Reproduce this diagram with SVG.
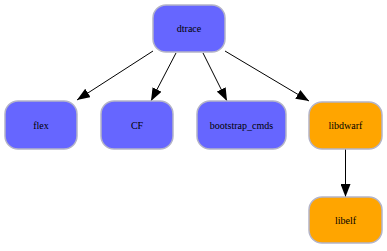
<svg xmlns="http://www.w3.org/2000/svg" width="387" height="251" viewBox="0 0 387 251">
<style>
.n rect{stroke:#b4b4c8;stroke-width:1.5}
.b rect{fill:#6666ff}
.o rect{fill:#ffa500}
text{font-family:"Liberation Serif","Times New Roman",serif;font-size:10px;fill:#000;text-anchor:middle;dominant-baseline:central}
.e line{stroke:#000;stroke-width:1;marker-end:url(#ah)}
</style>
<defs>
<marker id="ah" markerWidth="13" markerHeight="10" refX="13" refY="5" orient="auto" markerUnits="userSpaceOnUse">
<path d="M0,0 L13,5 L0,10 Z" fill="#000"/>
</marker>
</defs>
<rect width="387" height="251" fill="#fff"/>
<g class="e">
<line x1="153" y1="51" x2="77" y2="100"/>
<line x1="176" y1="53" x2="151" y2="101"/>
<line x1="203" y1="53" x2="227" y2="101"/>
<line x1="225" y1="51" x2="309" y2="101"/>
<line x1="345.5" y1="149" x2="345.5" y2="197"/>
</g>
<g id="dtrace" class="n b"><rect x="153" y="5" width="72" height="47" rx="13"/><text x="189" y="28.5">dtrace</text></g>
<g id="flex" class="n b"><rect x="5" y="101" width="72" height="48" rx="13"/><text x="41" y="125">flex</text></g>
<g id="CF" class="n b"><rect x="101" y="101" width="72" height="48" rx="13"/><text x="137" y="125">CF</text></g>
<g id="bootstrap_cmds" class="n b"><rect x="197" y="101" width="89" height="48" rx="13"/><text x="241.5" y="125">bootstrap_cmds</text></g>
<g id="libdwarf" class="n o"><rect x="309" y="102" width="73" height="47" rx="13"/><text x="345.5" y="125">libdwarf</text></g>
<g id="libelf" class="n o"><rect x="309" y="197" width="73" height="46" rx="13"/><text x="345.5" y="220">libelf</text></g>
</svg>
